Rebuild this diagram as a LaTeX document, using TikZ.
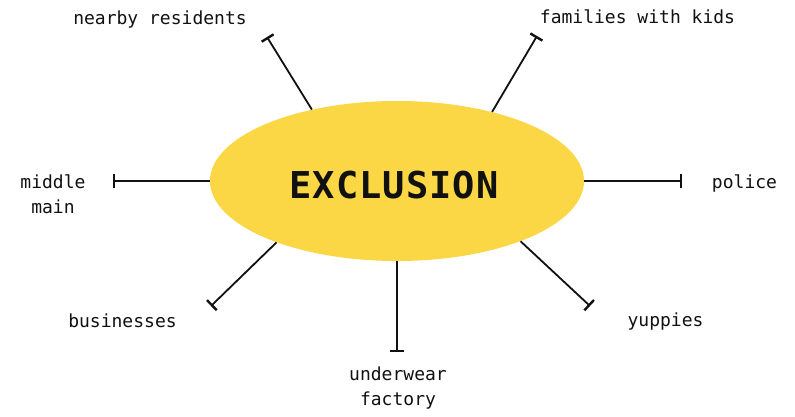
\documentclass[tikz,border=0pt]{standalone}
\usepackage{fontspec}
\setmainfont{DejaVu Sans Mono}
\newfontfamily\titlefont[LetterSpace=3]{DejaVu Sans Mono}
\usetikzlibrary{shapes.geometric,arrows.meta}
\definecolor{exyellow}{HTML}{FBD645}
\definecolor{ink}{HTML}{111111}
\begin{document}
\begin{tikzpicture}[x=1pt,y=-1pt,
  lbl/.style={font=\fontsize{18}{25}\selectfont, text=ink, inner sep=0pt, anchor=base, align=center},
  link/.style={draw=ink, line width=1.8pt, -{Bar[width=14pt,line width=2.4pt]}}]
\useasboundingbox (0,0) rectangle (795,417);
\node[ellipse, fill=exyellow, minimum width=374pt, minimum height=160pt, inner sep=0pt] (ex) at (397,181) {};
\node[font=\titlefont\fontsize{37}{40}\bfseries\selectfont, text=ink, inner sep=0pt, anchor=base] (title) at (394,198) {EXCLUSION};
% free ends
\coordinate (cNR) at (267,37);
\coordinate (cFK) at (537,36);
\coordinate (cMM) at (113,183);
\coordinate (cPO) at (682,182);
\coordinate (cBU) at (211,306);
\coordinate (cUF) at (397,352);
\coordinate (cYU) at (590,306);
\draw[link] (ex.140.8) -- (cNR);
\draw[link] (ex.36) -- (cFK);
\draw[link] (ex.180.6) -- (ex.180.6 -| cMM);
\draw[link] (ex.0) -- (ex.0 -| cPO);
\draw[link] (ex.207.3) -- (cBU);
\draw[link] (ex.270) -- (cUF);
\draw[link] (ex.334) -- (cYU);
% labels
\node[lbl] (tNR) at (160,25) {nearby residents};
\node[lbl] (tFK) at (637.5,24) {families with kids};
\node[lbl] (tMM) at (53,213) {middle\\main};
\node[lbl] (tPO) at (744.5,188) {police};
\node[lbl] (tBU) at (122.5,327) {businesses};
\node[lbl] (tYU) at (665.5,326) {yuppies};
\node[lbl] (tUF) at (398,405) {underwear\\factory};
\end{tikzpicture}
\end{document}
